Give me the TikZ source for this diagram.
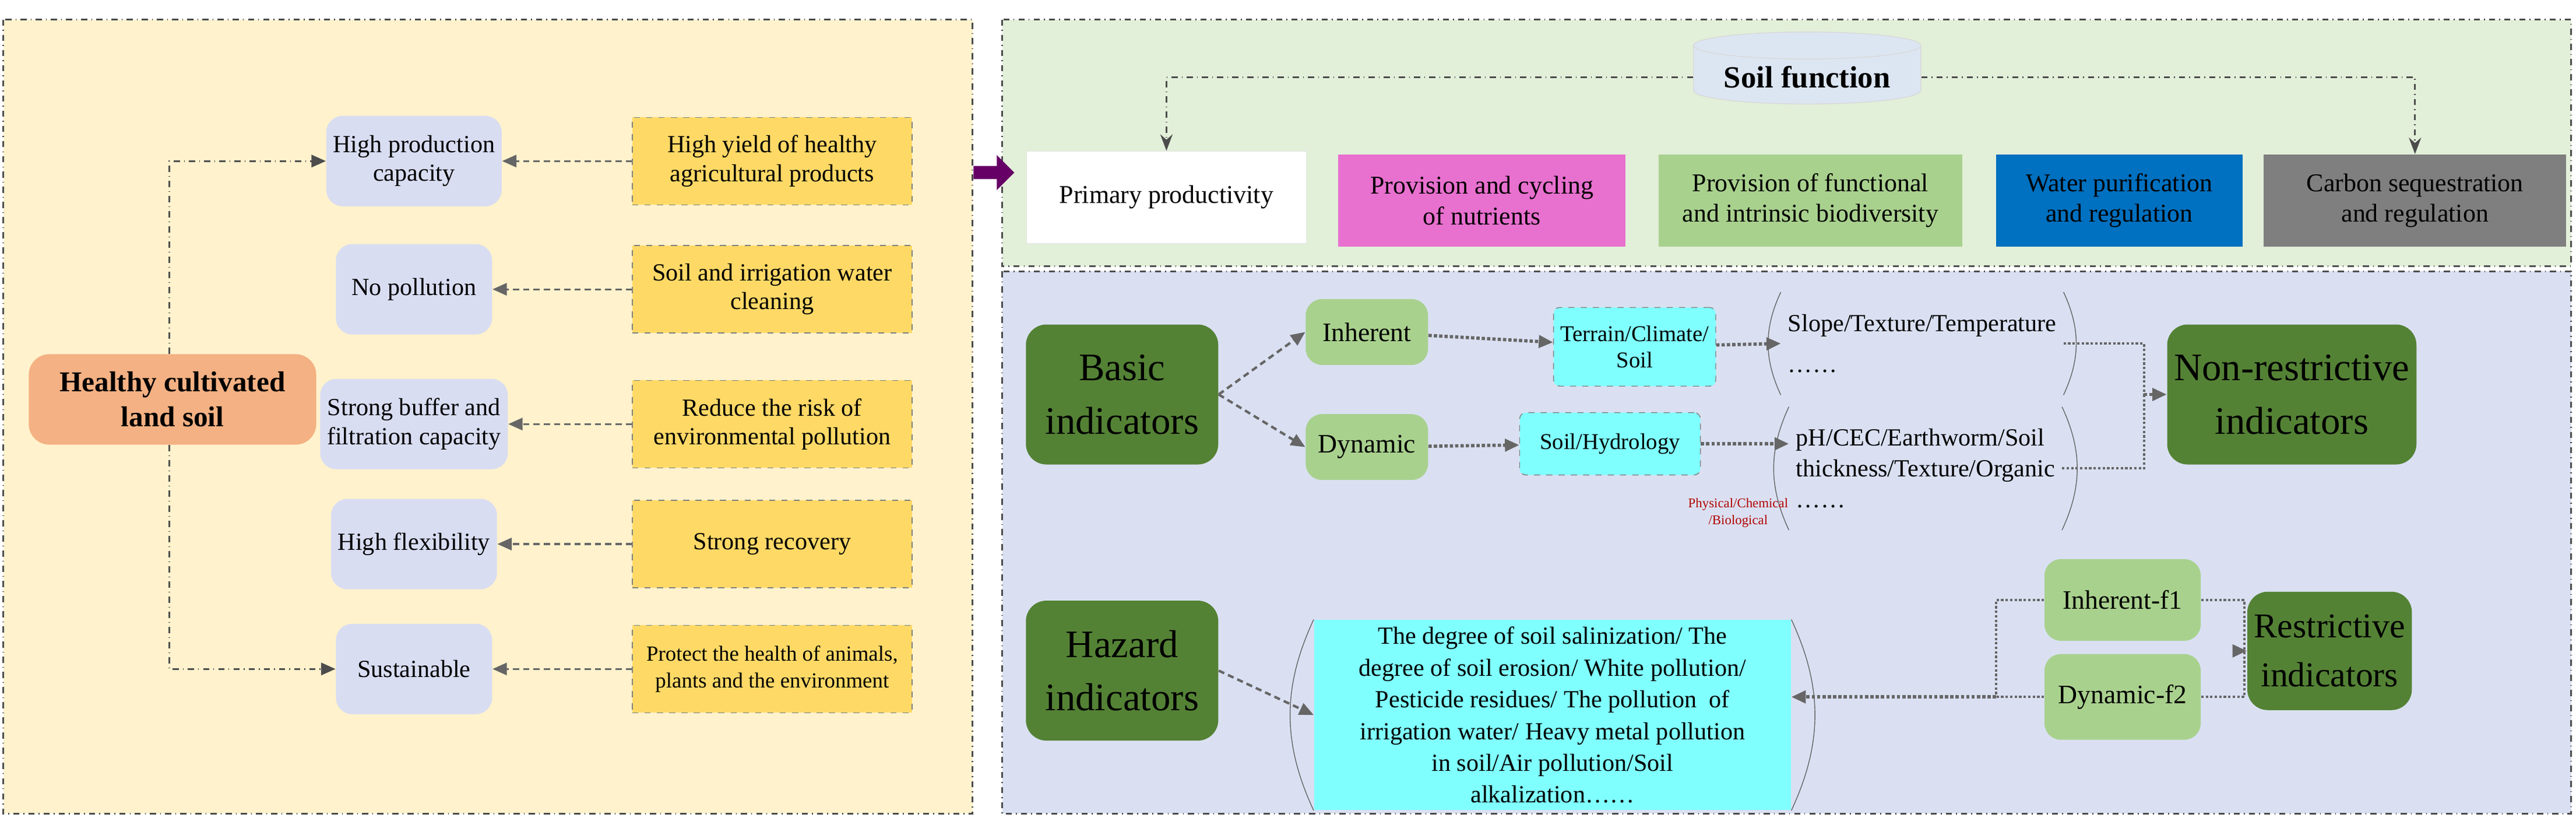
\documentclass[tikz,border=0pt]{standalone}
\usepackage{fontspec}
\setmainfont{Liberation Serif}
\newfontfamily\tms{Liberation Serif}
\usetikzlibrary{shapes.geometric,shapes.arrows,arrows.meta}
\definecolor{paneY}{HTML}{FFF2CC}
\definecolor{paneG}{HTML}{E2EFD9}
\definecolor{paneB}{HTML}{DAE0F2}
\definecolor{lav}{HTML}{D9DDF2}
\definecolor{yel}{HTML}{FFD966}
\definecolor{ora}{HTML}{F4B183}
\definecolor{dkg}{HTML}{548235}
\definecolor{ltg}{HTML}{A9D18E}
\definecolor{cya}{HTML}{80FFFF}
\definecolor{pnk}{HTML}{E870CF}
\definecolor{blu}{HTML}{0070C0}
\definecolor{gry}{HTML}{7F7F7F}
\definecolor{cyl}{HTML}{DCE6F2}
\tikzset{
  prop/.style={rectangle,rounded corners=8pt,fill=lav,minimum width=2.68cm,minimum height=1.55cm,align=center,font=\tms\fontsize{12}{14}\selectfont},
  way/.style={rectangle,draw=gray,dashed,fill=yel,minimum width=4.8cm,minimum height=1.5cm,align=center,font=\tms\fontsize{12}{14}\selectfont},
  func/.style={rectangle,minimum height=1.58cm,align=center,font=\tms\fontsize{12.5}{15}\selectfont},
  big/.style={rectangle,rounded corners=10pt,fill=dkg,minimum width=3.3cm,minimum height=2.4cm,align=center,font=\tms\fontsize{19}{26}\selectfont},
  kind/.style={rectangle,rounded corners=8pt,fill=ltg,minimum width=2.1cm,minimum height=1.13cm,align=center,font=\tms\fontsize{13}{15}\selectfont},
  src/.style={rectangle,rounded corners=3pt,draw=gray,dashed,fill=cya,align=center,font=\tms\fontsize{11}{13}\selectfont},
  ddash/.style={densely dashed,line width=1.2pt,draw=black!60,-{Triangle[length=7pt,width=6pt]}},
  dot/.style={densely dotted,line width=1.6pt,draw=black!60,-{Triangle[length=7pt,width=6pt]}},
  dashdot/.style={dash dot,line width=0.9pt,draw=black!70},
}
\begin{document}
\begin{tikzpicture}[x=0.02819cm,y=-0.02819cm]
\useasboundingbox (0,0) rectangle (1568,508);
% panels
\draw[dashdot,fill=paneY] (2,12) rectangle (592,495);
\draw[dashdot,fill=paneG] (610,12) rectangle (1565,162);
\draw[dashdot,fill=paneB] (610,165) rectangle (1565,495);

% left part
\node[rectangle,rounded corners=10pt,fill=ora,minimum width=4.93cm,minimum height=1.55cm,align=center,font=\tms\bfseries\fontsize{14}{17}\selectfont] (soil) at (105,243) {Healthy cultivated\\land soil};
\node[prop] (p1) at (252,98) {High production\\capacity};
\node[prop] (p2) at (252,176) {No pollution};
\node[prop] (p3) at (252,258) {Strong buffer and\\filtration capacity};
\node[prop] (p4) at (252,331) {High flexibility};
\node[prop] (p5) at (252,407) {Sustainable};
\node[way] (w1) at (470,98) {High yield of healthy\\agricultural products};
\node[way] (w2) at (470,176) {Soil and irrigation water\\cleaning};
\node[way] (w3) at (470,258) {Reduce the risk of\\environmental pollution};
\node[way] (w4) at (470,331) {Strong recovery};
\node[way,font=\tms\fontsize{10.5}{13}\selectfont] (w5) at (470,407) {Protect the health of animals,\\plants and the environment};
\foreach \from/\to in {w1/p1,w2/p2,w3/p3,w4/p4,w5/p5}
  \draw[ddash,line width=0.9pt] (\from) -- (\to);
\draw[dashdot,-{Triangle[length=7pt,width=6pt]}] (soil.north -| 103,0) |- (p1.west);
\draw[dashdot,-{Triangle[length=7pt,width=6pt]}] (soil.south -| 103,0) |- (p5.west);
\node[single arrow,fill=violet!80!black,minimum height=0.7cm,minimum width=0.6cm,single arrow head extend=2pt,inner sep=1pt] (pa) at (603,105) {};

% soil function
\node[cylinder,shape border rotate=90,aspect=0.15,fill=cyl,draw=black!15,minimum width=3.9cm,minimum height=0.9cm,font=\tms\bfseries\fontsize{15}{17}\selectfont] (sf) at (1100,47) {Soil function};
\node[func,fill=white,draw=black!10,minimum width=4.8cm] (f1) at (710,120) {Primary productivity};
\node[func,fill=pnk,minimum width=4.93cm] (f2) at (902,122) {Provision and cycling\\of nutrients};
\node[func,fill=ltg,minimum width=5.2cm] (f3) at (1102,122) {Provision of functional\\and intrinsic biodiversity};
\node[func,fill=blu,minimum width=4.23cm] (f4) at (1290,122) {Water purification\\and regulation};
\node[func,fill=gry,minimum width=5.19cm] (f5) at (1470,122) {Carbon sequestration\\and regulation};
\draw[dashdot,-{Stealth[length=8pt]}] (sf.west) -| (f1.north);
\draw[dashdot,-{Stealth[length=8pt]}] (sf.east) -| (f5.north);

% indicators
\node[big] (basic) at (683,240) {Basic\\indicators};
\node[kind] (inh) at (832,202) {Inherent};
\node[kind] (dyn) at (832,272) {Dynamic};
\node[src,minimum width=1.97cm,minimum height=1.35cm] (ter) at (995,211) {Terrain/Climate/\\Soil};
\node[src,minimum width=3.1cm,minimum height=1.07cm] (hyd) at (980,270) {Soil/Hydrology};
\node[minimum width=3.95cm,minimum height=1.75cm,align=left,font=\tms\fontsize{12}{20}\selectfont] (slo) at (1170,209) {Slope/Texture/Temperature\\……};
\node[minimum width=3.95cm,minimum height=2.1cm,align=left,font=\tms\fontsize{12}{15}\selectfont] (ph) at (1172,285) {pH/CEC/Earthworm/Soil\\thickness/Texture/Organic\\……};
\foreach \n in {slo,ph}{
  \draw[black!60] (\n.north west) to[bend right=25] (\n.south west);
  \draw[black!60] (\n.north east) to[bend left=25] (\n.south east);
}
\node[text=red!70!black,align=center,font=\tms\fontsize{6.5}{8}\selectfont] (pcb) at (1058,312) {Physical/Chemical\\/Biological};
\node[big,minimum width=3.67cm] (non) at (1395,240) {Non-restrictive\\indicators};
\draw[ddash] (basic.east) -- (inh.west);
\draw[ddash] (basic.east) -- (dyn.west);
\draw[dot] (inh) -- (ter);
\draw[dot] (ter) -- (slo.west);
\draw[dot] (dyn) -- (hyd);
\draw[dot] (hyd) -- (ph.west |- hyd);
\coordinate (jn) at (1305,240);
\draw[densely dotted,line width=1.2pt,black!60] (slo.east) -| (jn);
\draw[densely dotted,line width=1.2pt,black!60] (ph.east) -| (jn);
\draw[dot] (jn) -- (non.west);

\node[big] (haz) at (683,408) {Hazard\\indicators};
\node[rectangle,fill=cya,minimum width=8.18cm,minimum height=3.16cm,align=center,font=\tms\fontsize{12}{15.5}\selectfont] (lst) at (945,435) {The degree of soil salinization/ The\\degree of soil erosion/ White pollution/\\Pesticide residues/ The pollution\ \ of\\irrigation water/ Heavy metal pollution\\in soil/Air pollution/Soil\\alkalization……};
\draw[black!60] (lst.north west) to[bend right=25] (lst.south west);
\draw[black!60] (lst.north east) to[bend left=25] (lst.south east);
\node[kind,minimum width=2.68cm,minimum height=1.4cm] (if1) at (1292,365) {Inherent-f1};
\node[kind,minimum width=2.68cm,minimum height=1.47cm] (df2) at (1292,424) {Dynamic-f2};
\node[big,minimum width=2.4cm,minimum height=2.03cm,font=\tms\fontsize{17}{24}\selectfont] (res) at (1418,396) {Restrictive\\indicators};
\draw[ddash] (haz.east) -- (lst.west);
\coordinate (jl) at (1215,424);
\coordinate (jr) at (1366,396);
\draw[densely dotted,line width=1.2pt,black!60] (if1.west) -| (jl);
\draw[densely dotted,line width=1.2pt,black!60] (df2.west) -- (jl);
\draw[dot] (jl) -- (lst.east |- jl);
\draw[densely dotted,line width=1.2pt,black!60] (if1.east) -| (jr);
\draw[densely dotted,line width=1.2pt,black!60] (df2.east) -| (jr);
\draw[dot] (jr) -- (res.west);
\end{tikzpicture}
\end{document}
